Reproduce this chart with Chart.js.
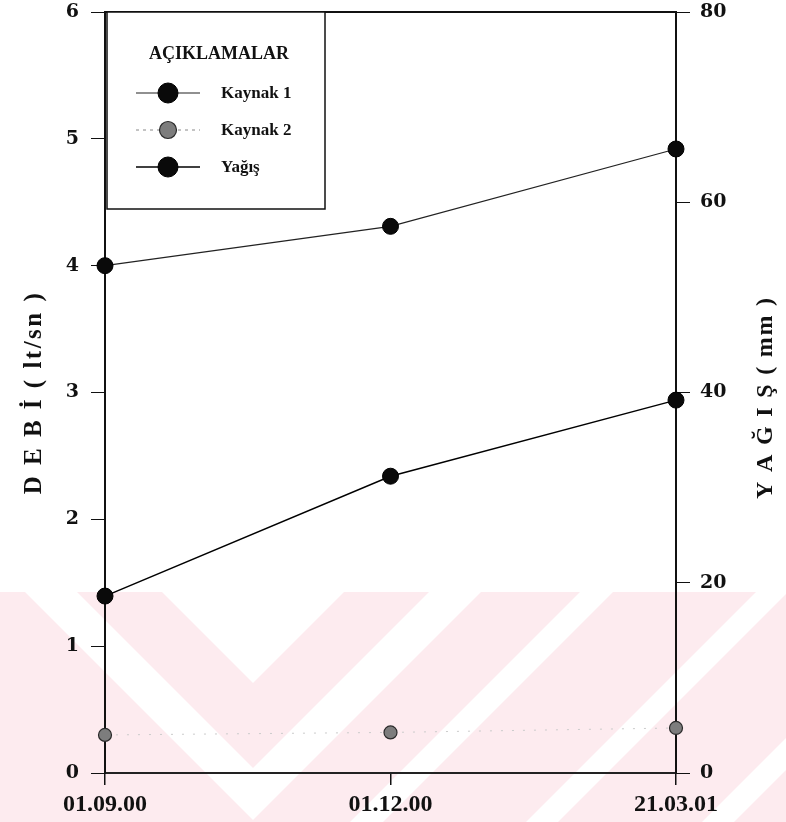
<!DOCTYPE html>
<html>
<head>
<meta charset="utf-8">
<script src="https://cdn.jsdelivr.net/npm/chart.js@4.4.0/dist/chart.umd.min.js"></script>
<style>
html,body{margin:0;padding:0;background:#fff;}
#wrap{width:786px;height:822px;position:relative;}
canvas{display:block;}
</style>
</head>
<body>
<div id="wrap"><canvas id="c" width="786" height="822"></canvas></div>
<script>
// ---- data ----
const categories = ['01.09.00', '01.12.00', '21.03.01'];
const kaynak1 = [4.0, 4.31, 4.92];      // DEBİ (lt/sn), left axis
const kaynak2 = [0.30, 0.32, 0.355];    // DEBİ (lt/sn), left axis
const yagis = [18.6, 31.2, 39.2];       // YAĞIŞ (mm), right axis
const seriesNames = ['Kaynak 1', 'Kaynak 2', 'Yağış'];
const leftTitle = 'D E B İ ( lt/sn )';
const rightTitle = 'Y A Ğ I Ş ( mm )';
const legendTitle = 'AÇIKLAMALAR';
const debiRange = [0, 6];
const yagisRange = [0, 80];

const serif = "'Liberation Serif', 'Times New Roman', serif";
const serif2 = "'DejaVu Serif', 'Liberation Serif', serif";

// background watermark (decorative)
const watermark = {
  id: 'watermark',
  beforeDraw(chart) {
    const ctx = chart.ctx;
    ctx.save();
    ctx.fillStyle = '#fdebef';
    ctx.fillRect(0, 592, 786, 230);
    ctx.fillStyle = '#ffffff';
    const polys = [
      [[162,592],[344,592],[253,683]],
      [[25,592],[77,592],[253,768],[429,592],[481,592],[253,820]],
      [[580,592],[613,592],[383,822],[350,822]],
      [[756,592],[788,592],[558,822],[526,822]],
      [[932,592],[964,592],[734,822],[702,822]]
    ];
    ctx.beginPath();
    ctx.rect(0, 592, 786, 230);
    ctx.clip();
    polys.forEach(p => {
      ctx.beginPath();
      ctx.moveTo(p[0][0], p[0][1]);
      for (let i = 1; i < p.length; i++) ctx.lineTo(p[i][0], p[i][1]);
      ctx.closePath();
      ctx.fill();
    });
    ctx.restore();
  }
};

const decorations = {
  id: 'decorations',
  afterDraw(chart) {
    const ctx = chart.ctx;
    const a = chart.chartArea;
    ctx.save();
    // top frame line
    ctx.strokeStyle = '#111';
    ctx.lineWidth = 2;
    ctx.beginPath();
    ctx.moveTo(a.left, a.top);
    ctx.lineTo(a.right, a.top);
    ctx.stroke();

    // axis titles (both read bottom-to-top)
    ctx.fillStyle = '#111';
    ctx.textAlign = 'center';
    ctx.textBaseline = 'middle';
    const cy = (a.top + a.bottom) / 2;
    ctx.font = 'bold 25px ' + serif;
    ctx.letterSpacing = '2.5px';
    ctx.save();
    ctx.translate(35, cy);
    ctx.rotate(-Math.PI / 2);
    ctx.fillText(leftTitle, 0, 0);
    ctx.restore();
    ctx.font = 'bold 24px ' + serif;
    ctx.letterSpacing = '1.8px';
    ctx.save();
    ctx.translate(766, cy + 5);
    ctx.rotate(-Math.PI / 2);
    ctx.fillText(rightTitle, 0, 0);
    ctx.restore();
    ctx.letterSpacing = '0px';

    // legend box
    const bx = a.left + 2, by = a.top, bw = 218, bh = 197;
    ctx.fillStyle = '#fff';
    ctx.fillRect(bx, by, bw, bh);
    ctx.strokeStyle = '#111';
    ctx.lineWidth = 1.5;
    ctx.strokeRect(bx, by, bw, bh);
    ctx.fillStyle = '#111';
    ctx.font = 'bold 18px ' + serif;
    ctx.textAlign = 'center';
    ctx.fillText(legendTitle, bx + 112, by + 42);

    const rowsY = [by + 81, by + 118, by + 155];
    const radii = [10, 8.5, 10];
    chart.data.datasets.forEach((ds, i) => {
      const y = rowsY[i];
      ctx.save();
      ctx.strokeStyle = i === 1 ? '#888' : ds.borderColor;
      ctx.lineWidth = ds.borderWidth;
      ctx.setLineDash(i === 1 ? [3, 4] : []);
      ctx.beginPath();
      ctx.moveTo(bx + 29, y);
      ctx.lineTo(bx + 93, y);
      ctx.stroke();
      ctx.setLineDash([]);
      ctx.beginPath();
      ctx.arc(bx + 61, y, radii[i], 0, Math.PI * 2);
      ctx.fillStyle = ds.pointBackgroundColor;
      ctx.fill();
      ctx.lineWidth = ds.pointBorderWidth;
      ctx.strokeStyle = ds.pointBorderColor;
      ctx.stroke();
      ctx.restore();
      ctx.fillStyle = '#111';
      ctx.font = 'bold 17px ' + serif;
      ctx.textAlign = 'left';
      ctx.textBaseline = 'middle';
      ctx.fillText(ds.label, bx + 114, y + 1);
    });
    ctx.restore();
  }
};

function fitY(width) {
  return function (s) {
    s.width = width;
    s.paddingTop = 0;
    s.paddingBottom = 0;
  };
}

new Chart(document.getElementById('c'), {
  type: 'line',
  data: {
    labels: categories,
    datasets: [
      {
        label: seriesNames[0], data: kaynak1, yAxisID: 'y',
        borderColor: '#222', borderWidth: 1.2,
        pointRadius: 8, pointBackgroundColor: '#0a0a0a', pointBorderColor: '#000', pointBorderWidth: 1,
        tension: 0, clip: false
      },
      {
        label: seriesNames[1], data: kaynak2, yAxisID: 'y',
        borderColor: '#cccccc', borderWidth: 1, borderDash: [2, 9],
        pointRadius: 6.5, pointBackgroundColor: '#7d7d7d', pointBorderColor: '#2a2a2a', pointBorderWidth: 1.2,
        tension: 0, clip: false
      },
      {
        label: seriesNames[2], data: yagis, yAxisID: 'y2',
        borderColor: '#000', borderWidth: 1.5,
        pointRadius: 8, pointBackgroundColor: '#0a0a0a', pointBorderColor: '#000', pointBorderWidth: 1,
        tension: 0, clip: false
      }
    ]
  },
  options: {
    responsive: false,
    animation: false,
    devicePixelRatio: 1,
    layout: { padding: { top: 12, left: 0, right: 0, bottom: 0 } },
    plugins: { legend: { display: false }, tooltip: { enabled: false } },
    scales: {
      x: {
        type: 'category',
        offset: false,
        grid: { display: true, drawOnChartArea: false, drawTicks: true, tickLength: 12, color: '#111', lineWidth: 1.5 },
        border: { display: true, color: '#222', width: 2 },
        ticks: { color: '#111', font: { family: serif, weight: 'bold', size: 24 }, padding: 5, maxRotation: 0, autoSkip: false },
        afterFit(s) { s.height = 49; s.paddingLeft = 0; s.paddingRight = 0; }
      },
      y: {
        position: 'left',
        min: debiRange[0], max: debiRange[1],
        grid: { display: true, drawOnChartArea: false, drawTicks: true, tickLength: 14, color: '#111', lineWidth: 1 },
        border: { display: true, color: '#111', width: 2 },
        ticks: { stepSize: 1, color: '#111', font: { family: serif2, weight: 'bold', size: 19 }, padding: 12 },
        afterFit: fitY(105)
      },
      y2: {
        position: 'right',
        min: yagisRange[0], max: yagisRange[1],
        grid: { display: true, drawOnChartArea: false, drawTicks: true, tickLength: 14, color: '#111', lineWidth: 1 },
        border: { display: true, color: '#111', width: 2 },
        ticks: { stepSize: 20, color: '#111', font: { family: serif2, weight: 'bold', size: 19 }, padding: 10 },
        afterFit: fitY(110)
      }
    }
  },
  plugins: [watermark, decorations]
});
</script>
</body>
</html>
